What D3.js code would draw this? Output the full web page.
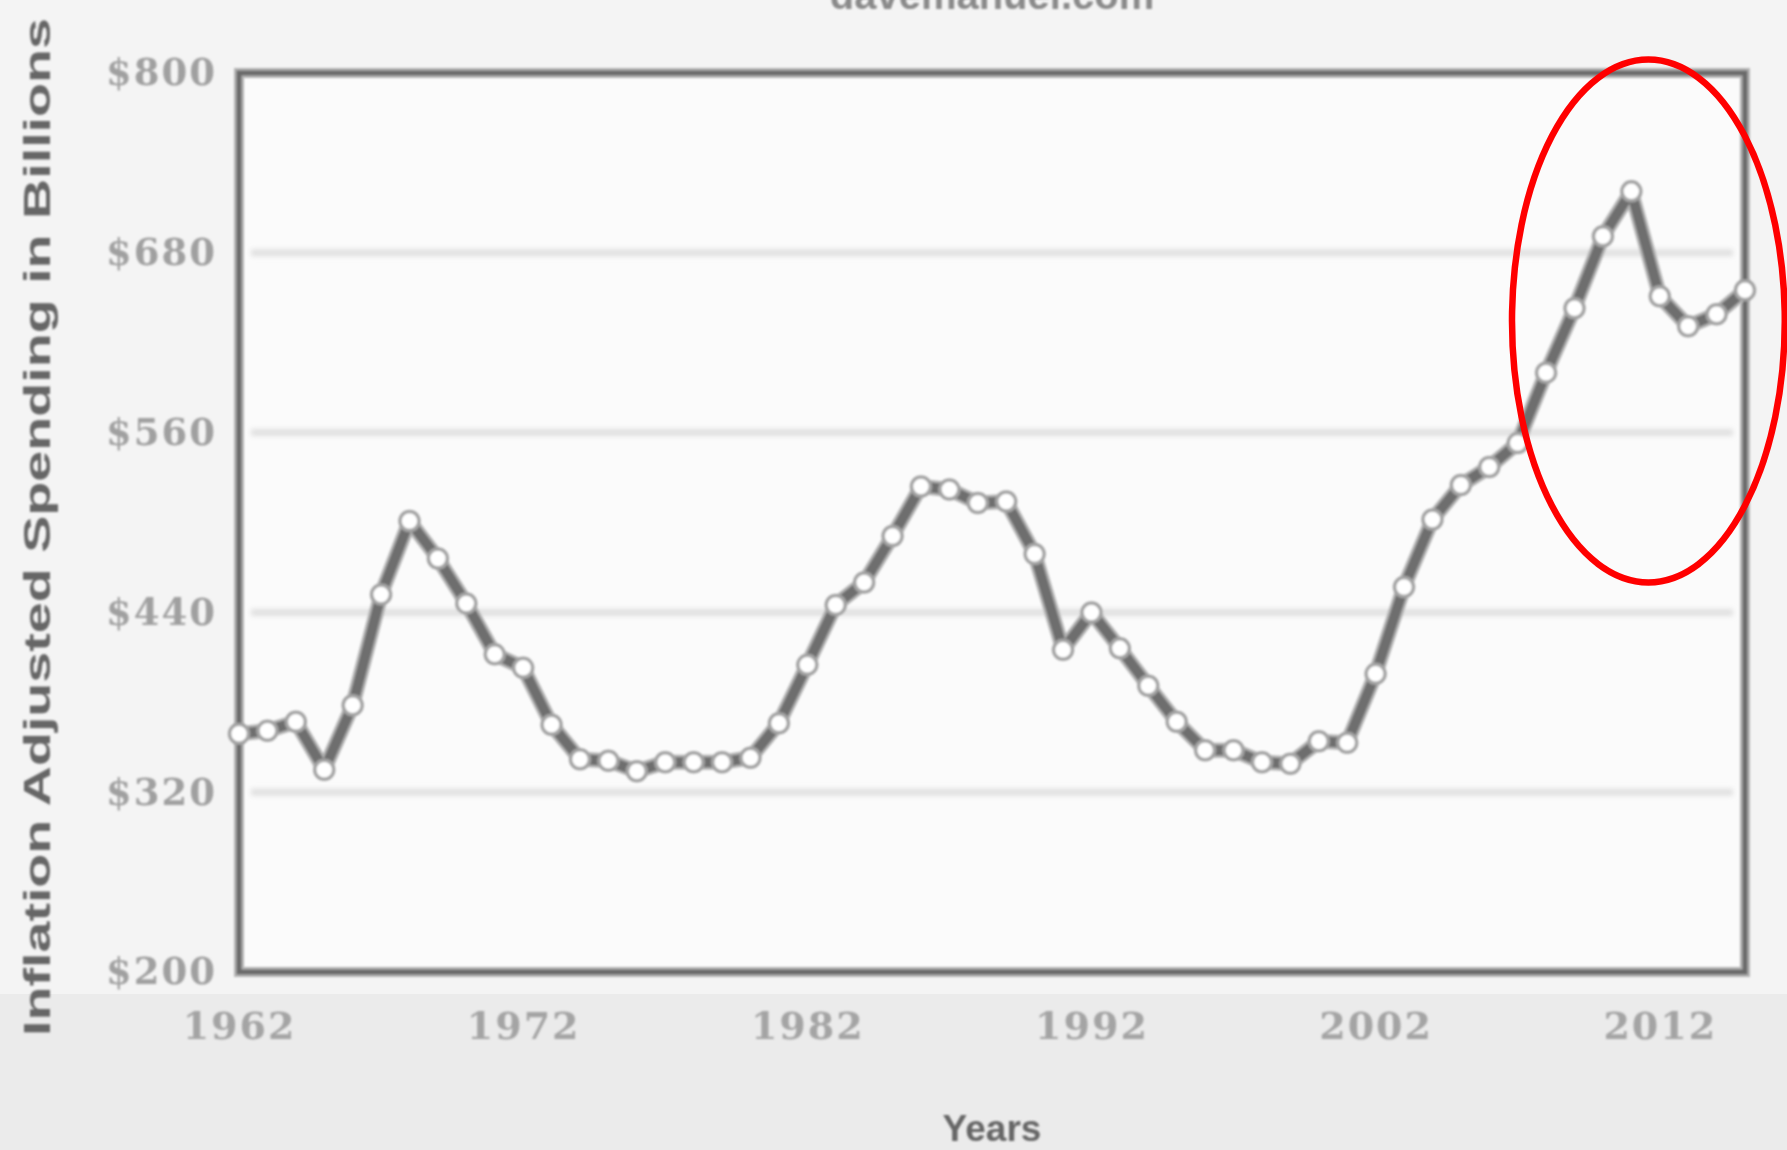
<!DOCTYPE html>
<html>
<head>
<meta charset="utf-8">
<script src="https://cdn.jsdelivr.net/npm/d3@7"></script>
<style>
  html, body { margin: 0; padding: 0; background: #f4f4f4; }
  svg { display: block; }
</style>
</head>
<body>
<script>
// ---- data ----
const years = [1962,1963,1964,1965,1966,1967,1968,1969,1970,1971,1972,1973,1974,1975,1976,1977,1978,1979,1980,1981,
               1982,1983,1984,1985,1986,1987,1988,1989,1990,1991,1992,1993,1994,1995,1996,1997,1998,1999,2000,2001,
               2002,2003,2004,2005,2006,2007,2008,2009,2010,2011,2012,2013,2014,2015];
const spending = [359,361,367,335,378,452,501,476,446,412,403,365,342,341,334,340,340,340,343,366,
                  405,445,460,491,524,522,513,514,479,415,440,416,391,367,348,348,340,339,354,353,
                  399,457,502,525,537,553,600,643,691,721,651,631,639,655];
const yTicks = [200, 320, 440, 560, 680, 800];
const yTickLabels = ["$200", "$320", "$440", "$560", "$680", "$800"];
const xTicks = [1962, 1972, 1982, 1992, 2002, 2012];
const xTickLabels = ["1962", "1972", "1982", "1992", "2002", "2012"];
const titleText = "davemanuel.com";
const yTitle = "Inflation Adjusted Spending in Billions";
const xTitle = "Years";
// highlighted region (in data units): year range and value range
const highlightYears = [2006.8, 2016.4];
const highlightValues = [460, 809];

// ---- layout ----
const W = 1787, H = 1150;
const plot = { left: 239, right: 1745, top: 73, bottom: 972 };

const svg = d3.select("body").append("svg").attr("width", W).attr("height", H);
const defs = svg.append("defs");
defs.append("filter").attr("id", "soft").attr("x", "-5%").attr("y", "-5%").attr("width", "110%").attr("height", "110%")
  .append("feGaussianBlur").attr("stdDeviation", 1.1);
defs.append("filter").attr("id", "softer").attr("x", "-5%").attr("y", "-5%").attr("width", "110%").attr("height", "110%")
  .append("feGaussianBlur").attr("stdDeviation", 2.5);

// backgrounds
svg.append("rect").attr("x", 0).attr("y", 0).attr("width", W).attr("height", H).attr("fill", "#f4f4f4");
svg.append("rect").attr("x", 0).attr("y", 994).attr("width", W).attr("height", H - 994).attr("fill", "#ebebeb");

const x = d3.scaleLinear().domain([1962, 2015]).range([plot.left, plot.right]);
const y = d3.scaleLinear().domain([200, 800]).range([plot.bottom, plot.top]);

// plot area
svg.append("rect")
  .attr("x", plot.left).attr("y", plot.top)
  .attr("width", plot.right - plot.left).attr("height", plot.bottom - plot.top)
  .attr("fill", "#fbfbfb");

// gridlines
const grid = svg.append("g").attr("filter", "url(#softer)");
grid.selectAll("line").data(yTicks.filter(v => v > 200 && v < 800)).join("line")
  .attr("x1", plot.left + 12).attr("x2", plot.right - 12)
  .attr("y1", d => y(d)).attr("y2", d => y(d))
  .attr("stroke", "#e0e0e0").attr("stroke-width", 7);

// frame
const frame = svg.append("g").attr("filter", "url(#soft)");
frame.append("rect")
  .attr("x", plot.left).attr("y", plot.top)
  .attr("width", plot.right - plot.left).attr("height", plot.bottom - plot.top)
  .attr("fill", "none").attr("stroke", "#b4b4b4").attr("stroke-width", 10);
frame.append("rect")
  .attr("x", plot.left).attr("y", plot.top)
  .attr("width", plot.right - plot.left).attr("height", plot.bottom - plot.top)
  .attr("fill", "none").attr("stroke", "#6a6a6a").attr("stroke-width", 5);

// axes (labels only, via d3 axes)
const yAxis = d3.axisLeft(y).tickValues(yTicks).tickFormat((d, i) => yTickLabels[i]).tickSize(0).tickPadding(22);
const gy = svg.append("g").attr("transform", `translate(${plot.left},0)`).attr("filter", "url(#soft)").call(yAxis);
gy.select(".domain").remove();
gy.selectAll("text")
  .attr("font-family", "'DejaVu Serif', serif").attr("font-weight", "bold")
  .attr("font-size", 37).attr("fill", "#a0a0a0").attr("letter-spacing", 2);

const xAxis = d3.axisBottom(x).tickValues(xTicks).tickFormat((d, i) => xTickLabels[i]).tickSize(0).tickPadding(40);
const gx = svg.append("g").attr("transform", `translate(0,${plot.bottom})`).attr("filter", "url(#soft)").call(xAxis);
gx.select(".domain").remove();
gx.selectAll("text")
  .attr("font-family", "'DejaVu Serif', serif").attr("font-weight", "bold")
  .attr("font-size", 38).attr("fill", "#a4a4a4").attr("letter-spacing", 2);

// titles
svg.append("text")
  .attr("x", 992).attr("y", 9)
  .attr("text-anchor", "middle")
  .attr("font-family", "'Liberation Sans', Arial, sans-serif").attr("font-weight", "bold")
  .attr("font-size", 40).attr("fill", "#8a8a8a").attr("filter", "url(#soft)")
  .text(titleText);

svg.append("text")
  .attr("transform", `translate(50,${(17 + 1037) / 2}) rotate(-90)`)
  .attr("text-anchor", "middle")
  .attr("font-family", "'Liberation Sans', Arial, sans-serif").attr("font-weight", "bold")
  .attr("font-size", 37).attr("fill", "#666666").attr("filter", "url(#soft)")
  .attr("textLength", 1018).attr("lengthAdjust", "spacingAndGlyphs")
  .text(yTitle);

svg.append("text")
  .attr("x", 992).attr("y", 1141)
  .attr("text-anchor", "middle")
  .attr("font-family", "'Liberation Sans', Arial, sans-serif").attr("font-weight", "bold")
  .attr("font-size", 37).attr("fill", "#666666").attr("filter", "url(#soft)")
  .text(xTitle);

// series
const pts = years.map((yr, i) => ({ year: yr, value: spending[i] }));
const series = svg.append("g").attr("filter", "url(#soft)");
const lineGen = d3.line().x(d => x(d.year)).y(d => y(d.value));
series.append("path").datum(pts)
  .attr("fill", "none").attr("stroke", "#b0b0b0").attr("stroke-width", 15)
  .attr("stroke-linejoin", "round")
  .attr("d", lineGen);
series.append("path").datum(pts)
  .attr("fill", "none").attr("stroke", "#6e6e6e").attr("stroke-width", 10)
  .attr("stroke-linejoin", "round")
  .attr("d", lineGen);
series.selectAll("circle").data(pts).join("circle")
  .attr("cx", d => x(d.year)).attr("cy", d => y(d.value))
  .attr("r", 9.5)
  .attr("fill", "#ffffff").attr("stroke", "#a4a4a4").attr("stroke-width", 3.5);

// highlight ellipse
const ex0 = x(highlightYears[0]), ex1 = x(highlightYears[1]);
const ey0 = y(highlightValues[1]), ey1 = y(highlightValues[0]);
svg.append("ellipse")
  .attr("cx", (ex0 + ex1) / 2).attr("cy", (ey0 + ey1) / 2)
  .attr("rx", (ex1 - ex0) / 2).attr("ry", (ey1 - ey0) / 2)
  .attr("fill", "none").attr("stroke", "#ff0000").attr("stroke-width", 6.5);
</script>
</body>
</html>
